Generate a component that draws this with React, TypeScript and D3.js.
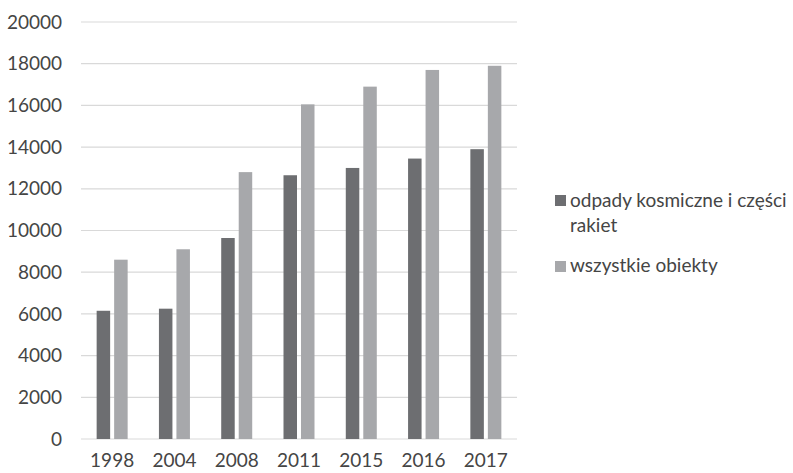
import React from "react";
import * as d3 from "d3";

const years = ["1998", "2004", "2008", "2011", "2015", "2016", "2017"];
const debris = [6150, 6250, 9640, 12650, 13000, 13450, 13900];
const allObjects = [8600, 9100, 12800, 16050, 16900, 17700, 17900];
const yTicks = [0, 2000, 4000, 6000, 8000, 10000, 12000, 14000, 16000, 18000, 20000];
const seriesNames = ["odpady kosmiczne i części rakiet", "wszystkie obiekty"];
const seriesColors = ["#6d6e71", "#a7a8ab"];

const W = 793;
const H = 473;
const plot = { left: 81, right: 517, top: 22, bottom: 439 };
const FONT = "Lato, 'Open Sans', sans-serif";
const TEXT = "#454545";

export default function App() {
  const x = d3.scaleBand<string>().domain(years).range([plot.left, plot.right]);
  const y = d3.scaleLinear().domain([0, 20000]).range([plot.bottom, plot.top]);
  const barW = 13.5;
  const gap = 4;
  const series = [debris, allObjects];

  return (
    <svg
      width={W}
      height={H}
      style={{ position: "absolute", left: 0, top: 0, background: "#fff" }}
    >
      {yTicks.map((t) => (
        <g key={t}>
          <line
            x1={plot.left}
            x2={plot.right}
            y1={y(t)}
            y2={y(t)}
            stroke="#d9d9d9"
            strokeWidth={1.2}
          />
          <text
            x={62}
            y={y(t)}
            dy="0.35em"
            textAnchor="end"
            fontFamily={FONT}
            fontSize={19}
            fill={TEXT}
          >
            {t}
          </text>
        </g>
      ))}
      {years.map((yr, i) => {
        const cx = (x(yr) ?? 0) + x.bandwidth() / 2;
        return (
          <g key={yr}>
            {series.map((vals, s) => {
              const bx = s === 0 ? cx - gap / 2 - barW : cx + gap / 2;
              return (
                <rect
                  key={s}
                  x={bx}
                  y={y(vals[i])}
                  width={barW}
                  height={y(0) - y(vals[i])}
                  fill={seriesColors[s]}
                />
              );
            })}
            <text
              x={cx}
              y={467}
              textAnchor="middle"
              fontFamily={FONT}
              fontSize={19}
              fill={TEXT}
            >
              {yr}
            </text>
          </g>
        );
      })}
      <g fontFamily={FONT} fontSize={19} fill={TEXT}>
        <rect x={555} y={195} width={11} height={11} fill={seriesColors[0]} />
        <text x={570} y={207}>odpady kosmiczne i części</text>
        <text x={570} y={232}>rakiet</text>
        <rect x={555} y={261} width={11} height={11} fill={seriesColors[1]} />
        <text x={570} y={272}>{seriesNames[1]}</text>
      </g>
    </svg>
  );
}
